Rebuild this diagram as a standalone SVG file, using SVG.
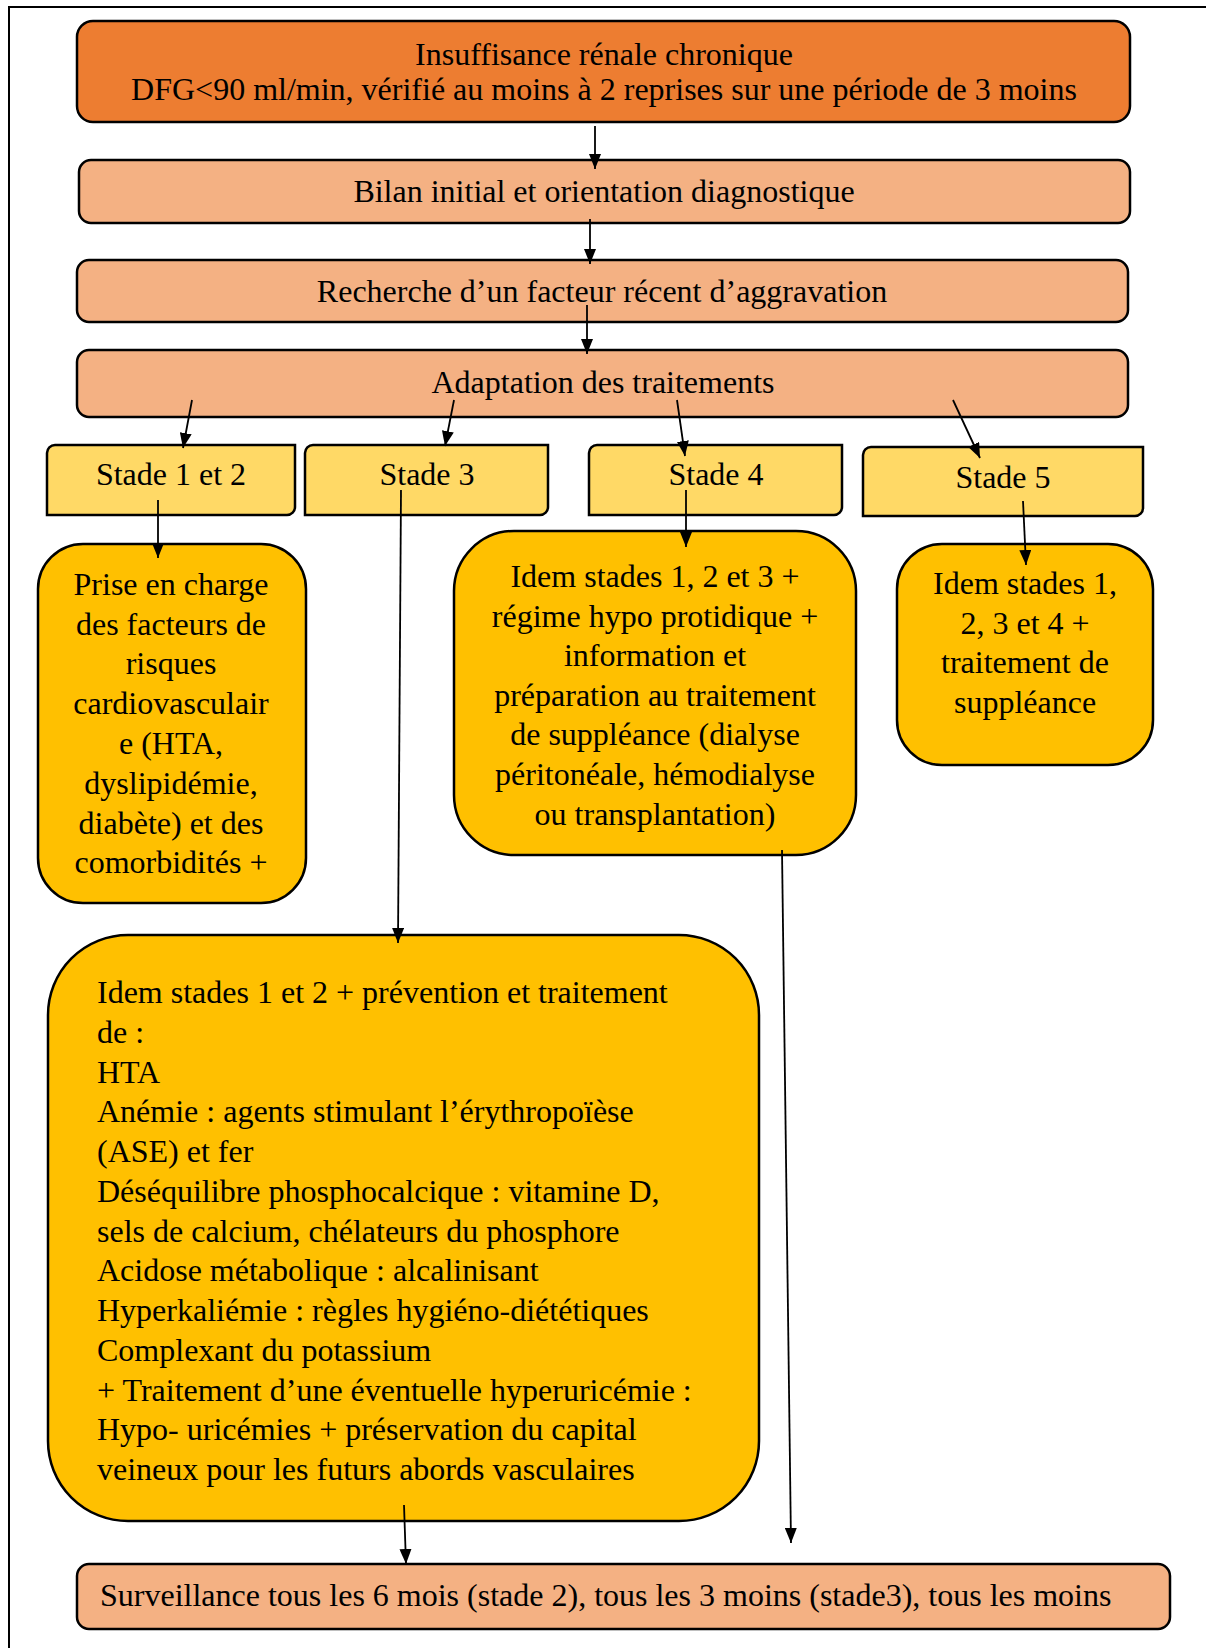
<svg xmlns="http://www.w3.org/2000/svg" width="1206" height="1648" viewBox="0 0 1206 1648">
<defs>
<marker id="ah" markerUnits="userSpaceOnUse" markerWidth="16" markerHeight="12" refX="15" refY="6" orient="auto">
<path d="M0,0 L15,6 L0,12 Z" fill="#000"/>
</marker>
</defs>
<style>
text{font-family:"Liberation Serif","Times New Roman",serif;font-size:32px;fill:#000}
.c{text-anchor:middle}
.n{stroke:#000;stroke-width:2.5}
.o1{fill:#ED7D31}
.o2{fill:#F4B183}
.y1{fill:#FFD966}
.y2{fill:#FFC000}
.e{stroke:#000;stroke-width:1.8;fill:none;marker-end:url(#ah)}
.f{stroke:#000;stroke-width:2;fill:none}
</style>
<rect width="1206" height="1648" fill="#fff"/>
<g id="frame">
<path class="f" d="M9,1648 V7 H1206"/>
</g>
<g id="n1">
<rect class="n o1" x="77" y="21" width="1053" height="101" rx="16"/>
<text class="c" x="604" y="65">Insuffisance rénale chronique</text>
<text class="c" x="604" y="100">DFG&lt;90 ml/min, vérifié au moins à 2 reprises sur une période de 3 moins</text>
</g>
<g id="n2">
<rect class="n o2" x="79" y="160" width="1051" height="63" rx="12"/>
<text class="c" x="604" y="202">Bilan initial et orientation diagnostique</text>
</g>
<g id="n3">
<rect class="n o2" x="77" y="260" width="1051" height="62" rx="12"/>
<text class="c" x="602" y="302">Recherche d’un facteur récent d’aggravation</text>
</g>
<g id="n4">
<rect class="n o2" x="77" y="350" width="1051" height="67" rx="12"/>
<text class="c" x="603" y="393">Adaptation des traitements</text>
</g>
<g id="s12">
<path class="n y1" d="M55,445 H295 V507 A8,8 0 0 1 287,515 H47 V453 A8,8 0 0 1 55,445 Z"/>
<text class="c" x="171" y="485">Stade 1 et 2</text>
</g>
<g id="s3">
<path class="n y1" d="M313,445 H548 V507 A8,8 0 0 1 540,515 H305 V453 A8,8 0 0 1 313,445 Z"/>
<text class="c" x="427" y="485">Stade 3</text>
</g>
<g id="s4">
<path class="n y1" d="M597,445 H842 V507 A8,8 0 0 1 834,515 H589 V453 A8,8 0 0 1 597,445 Z"/>
<text class="c" x="716" y="485">Stade 4</text>
</g>
<g id="s5">
<path class="n y1" d="M871,447 H1143 V508 A8,8 0 0 1 1135,516 H863 V455 A8,8 0 0 1 871,447 Z"/>
<text class="c" x="1003" y="488">Stade 5</text>
</g>
<g id="p12">
<rect class="n y2" x="38" y="544" width="268" height="359" rx="45"/>
<text class="c" x="171" y="595">Prise en charge</text>
<text class="c" x="171" y="635">des facteurs de</text>
<text class="c" x="171" y="674">risques</text>
<text class="c" x="171" y="714">cardiovasculair</text>
<text class="c" x="171" y="754">e (HTA,</text>
<text class="c" x="171" y="794">dyslipidémie,</text>
<text class="c" x="171" y="834">diabète) et des</text>
<text class="c" x="171" y="873">comorbidités +</text>
</g>
<g id="p4">
<rect class="n y2" x="454" y="531" width="402" height="324" rx="60"/>
<text class="c" x="655" y="587">Idem stades 1, 2 et 3 +</text>
<text class="c" x="655" y="627">régime hypo protidique +</text>
<text class="c" x="655" y="666">information et</text>
<text class="c" x="655" y="706">préparation au traitement</text>
<text class="c" x="655" y="745">de suppléance (dialyse</text>
<text class="c" x="655" y="785">péritonéale, hémodialyse</text>
<text class="c" x="655" y="825">ou transplantation)</text>
</g>
<g id="p5">
<rect class="n y2" x="897" y="544" width="256" height="221" rx="45"/>
<text class="c" x="1025" y="594">Idem stades 1,</text>
<text class="c" x="1025" y="634">2, 3 et 4 +</text>
<text class="c" x="1025" y="673">traitement de</text>
<text class="c" x="1025" y="713">suppléance</text>
</g>
<g id="p3">
<rect class="n y2" x="48" y="935" width="711" height="586" rx="80"/>
<text x="97" y="1003">Idem stades 1 et 2 + prévention et traitement</text>
<text x="97" y="1043">de :</text>
<text x="97" y="1083">HTA</text>
<text x="97" y="1122">Anémie : agents stimulant l’érythropoïèse</text>
<text x="97" y="1162">(ASE) et fer</text>
<text x="97" y="1202">Déséquilibre phosphocalcique : vitamine D,</text>
<text x="97" y="1242">sels de calcium, chélateurs du phosphore</text>
<text x="97" y="1281">Acidose métabolique : alcalinisant</text>
<text x="97" y="1321">Hyperkaliémie : règles hygiéno-diététiques</text>
<text x="97" y="1361">Complexant du potassium</text>
<text x="97" y="1401">+ Traitement d’une éventuelle hyperuricémie :</text>
<text x="97" y="1440">Hypo- uricémies + préservation du capital</text>
<text x="97" y="1480">veineux pour les futurs abords vasculaires</text>
</g>
<g id="surv">
<rect class="n o2" x="77" y="1564" width="1093" height="65" rx="12"/>
<text x="100" y="1606">Surveillance tous les 6 mois (stade 2), tous les 3 moins (stade3), tous les moins</text>
</g>
<g id="edges">
<line class="e" x1="595" y1="126" x2="595" y2="169"/>
<line class="e" x1="590" y1="219" x2="590" y2="264"/>
<line class="e" x1="587" y1="305" x2="587" y2="354"/>
<line class="e" x1="192" y1="400" x2="183" y2="448"/>
<line class="e" x1="454" y1="400" x2="445" y2="446"/>
<line class="e" x1="677" y1="400" x2="685" y2="456"/>
<line class="e" x1="953" y1="400" x2="980" y2="458"/>
<line class="e" x1="158" y1="500" x2="158" y2="558"/>
<line class="e" x1="401" y1="490" x2="398" y2="943"/>
<line class="e" x1="686" y1="490" x2="686" y2="547"/>
<line class="e" x1="1023" y1="501" x2="1026" y2="565"/>
<line class="e" x1="404" y1="1505" x2="406" y2="1564"/>
<line class="e" x1="782" y1="850" x2="791" y2="1543"/>
</g>
</svg>
